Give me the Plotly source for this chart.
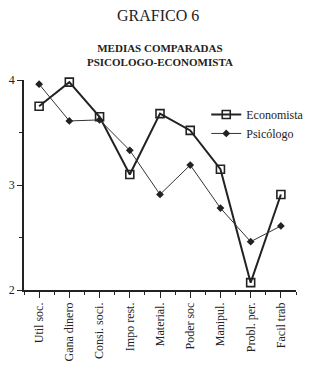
import plotly.graph_objects as go

categories = ["Util soc.", "Gana dinero", "Consi. soci.", "Impo rest.", "Material.",
              "Poder soc", "Manipul.", "Probl. per.", "Facil trab"]
economista = [3.75, 3.98, 3.65, 3.10, 3.68, 3.52, 3.15, 2.07, 2.91]
psicologo = [3.96, 3.61, 3.62, 3.33, 2.91, 3.19, 2.78, 2.46, 2.61]
y_ticks = [2, 3, 4]

FONT = "Liberation Serif"
x = list(range(len(categories)))

fig = go.Figure()
fig.add_trace(go.Scatter(
    x=x, y=economista, name="Economista", mode="lines+markers",
    line=dict(color="#222", width=2),
    marker=dict(symbol="square-open", size=8, color="#222", line=dict(width=1.6)),
    cliponaxis=False))
fig.add_trace(go.Scatter(
    x=x, y=psicologo, name="Psicólogo", mode="lines+markers",
    line=dict(color="#333", width=1),
    marker=dict(symbol="diamond", size=6, color="#222"),
    cliponaxis=False))

fig.update_layout(
    width=318, height=375,
    margin=dict(l=21, r=9, t=80, b=85),
    paper_bgcolor="white", plot_bgcolor="white",
    font=dict(family=FONT, color="#222", size=11),
    showlegend=True,
    legend=dict(x=0.67, y=0.905, xanchor="left", yanchor="top",
                bgcolor="rgba(0,0,0,0)", font=dict(size=12, family=FONT),
                itemwidth=30, tracegroupgap=0),
    annotations=[
        dict(text="GRAFICO 6", x=(163 - 21) / 288, y=1 + (80 - 5) / 210,
             xref="paper", yref="paper",
             xanchor="center", yanchor="top", showarrow=False,
             font=dict(size=16, family=FONT)),
        dict(text="<b>MEDIAS COMPARADAS<br>PSICOLOGO-ECONOMISTA</b>",
             x=(165 - 21) / 288, y=1 + (80 - 40) / 210,
             xref="paper", yref="paper",
             xanchor="center", yanchor="top", showarrow=False,
             font=dict(size=11, family=FONT)),
    ],
)

fig.update_xaxes(
    range=[-0.5, 8.5], tickvals=x, ticktext=categories, tickangle=-90,
    showgrid=False, zeroline=False, showline=True, linecolor="#222", linewidth=1.5,
    ticks="outside", ticklen=6, tickcolor="#222",
    minor=dict(tickvals=[i + 0.5 for i in range(-1, 9)], ticks="outside", ticklen=3,
               tickcolor="#222", showgrid=False),
    tickfont=dict(size=12, family=FONT))
fig.update_yaxes(
    range=[2, 4], tickvals=y_ticks, showgrid=False, zeroline=False,
    showline=True, linecolor="#222", linewidth=1.5,
    ticks="outside", ticklen=5, tickcolor="#222",
    minor=dict(tickvals=[2.5, 3.5], ticks="outside", ticklen=3, tickcolor="#222", showgrid=False),
    tickfont=dict(size=12, family=FONT))

fig.write_html("out.html")
